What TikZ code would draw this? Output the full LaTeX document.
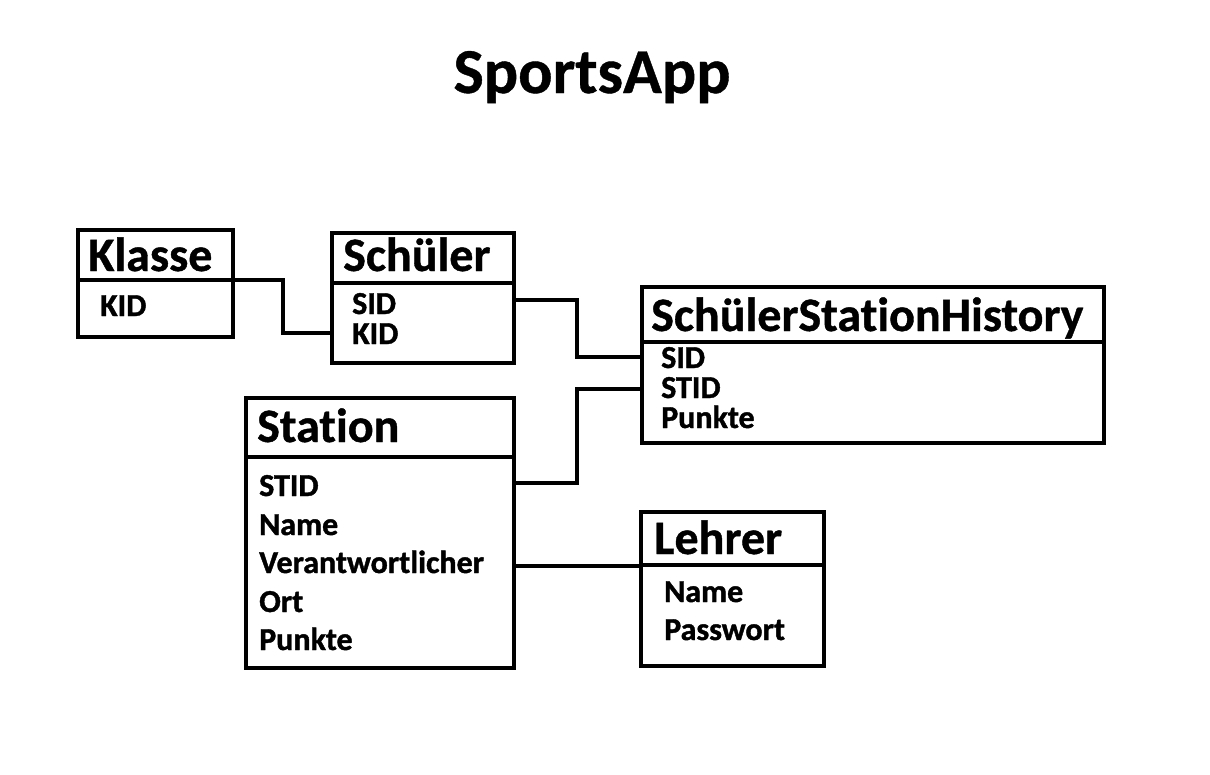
\documentclass[tikz,border=0pt]{standalone}
\usepackage{fontspec}
\setmainfont[Ligatures=NoCommon]{Carlito}
\newcommand{\heavytext}[1]{\special{pdf:literal 2 Tr 0.4 w}#1\special{pdf:literal 0 Tr}}
\begin{document}
\begin{tikzpicture}[x=1pt,y=-1pt,
  box/.style={draw, line width=4.5pt, inner sep=0pt, outer sep=0pt, rectangle},
  divider/.style={line width=4.5pt},
  conn/.style={line width=4.5pt},
  titletext/.style={anchor=base, inner sep=0pt, font=\fontsize{64}{70}\selectfont\bfseries},
  hdr/.style={anchor=base west, inner sep=0pt, font=\fontsize{48}{50}\selectfont\bfseries},
  attr/.style={anchor=base west, inner sep=0pt, font=\fontsize{32}{34}\selectfont\bfseries}]
\useasboundingbox (0,0) rectangle (1210,774);

\node[titletext] (title) at (592,93) {\heavytext{SportsApp}};

% Klasse
\node[box, minimum width=155pt, minimum height=107pt] (klasse) at (155.5,283.5) {};
\draw[divider] (klasse.west |- 0,280) -- (klasse.east |- 0,280);
\node[hdr] (klasseT) at (88,271) {\heavytext{Klasse}};
\node[attr] (klasseA1) at (100,316) {\heavytext{KID}};

% Schueler
\node[box, minimum width=182pt, minimum height=130pt] (schueler) at (423,298) {};
\draw[divider] (schueler.west |- 0,283) -- (schueler.east |- 0,283);
\node[hdr] (schuelerT) at (343,271) {\heavytext{Schüler}};
\node[attr] (schuelerA1) at (352,314) {\heavytext{SID}};
\node[attr] (schuelerA2) at (352,344) {\heavytext{KID}};

% SchuelerStationHistory
\node[box, minimum width=462pt, minimum height=156pt] (ssh) at (873,365) {};
\draw[divider] (ssh.west |- 0,342) -- (ssh.east |- 0,342);
\node[hdr] (sshT) at (651,331) {\heavytext{SchülerStationHistory}};
\node[attr] (sshA1) at (661,368) {\heavytext{SID}};
\node[attr] (sshA2) at (661,398) {\heavytext{STID}};
\node[attr] (sshA3) at (661,428) {\heavytext{Punkte}};

% Station
\node[box, minimum width=268pt, minimum height=270pt] (station) at (380,533) {};
\draw[divider] (station.west |- 0,457) -- (station.east |- 0,457);
\node[hdr] (stationT) at (257,442) {\heavytext{Station}};
\node[attr] (stationA1) at (259,496) {\heavytext{STID}};
\node[attr] (stationA2) at (259,535) {\heavytext{Name}};
\node[attr] (stationA3) at (259,573) {\heavytext{Verantwortlicher}};
\node[attr] (stationA4) at (259,612) {\heavytext{Ort}};
\node[attr] (stationA5) at (259,650) {\heavytext{Punkte}};

% Lehrer
\node[box, minimum width=183pt, minimum height=154pt] (lehrer) at (732.5,589) {};
\draw[divider] (lehrer.west |- 0,565) -- (lehrer.east |- 0,565);
\node[hdr] (lehrerT) at (654,554) {\heavytext{Lehrer}};
\node[attr] (lehrerA1) at (664,602) {\heavytext{Name}};
\node[attr] (lehrerA2) at (664,640) {\heavytext{Passwort}};

% Connectors
\draw[conn] (klasse.east |- 0,280) -| (283,333) -- (schueler.west |- 0,333);
\draw[conn] (schueler.east |- 0,300) -| (577,357) -- (ssh.west |- 0,357);
\draw[conn] (station.east |- 0,483) -| (577,389) -- (ssh.west |- 0,389);
\draw[conn] (station.east |- 0,566) -- (lehrer.west |- 0,566);
\end{tikzpicture}
\end{document}
